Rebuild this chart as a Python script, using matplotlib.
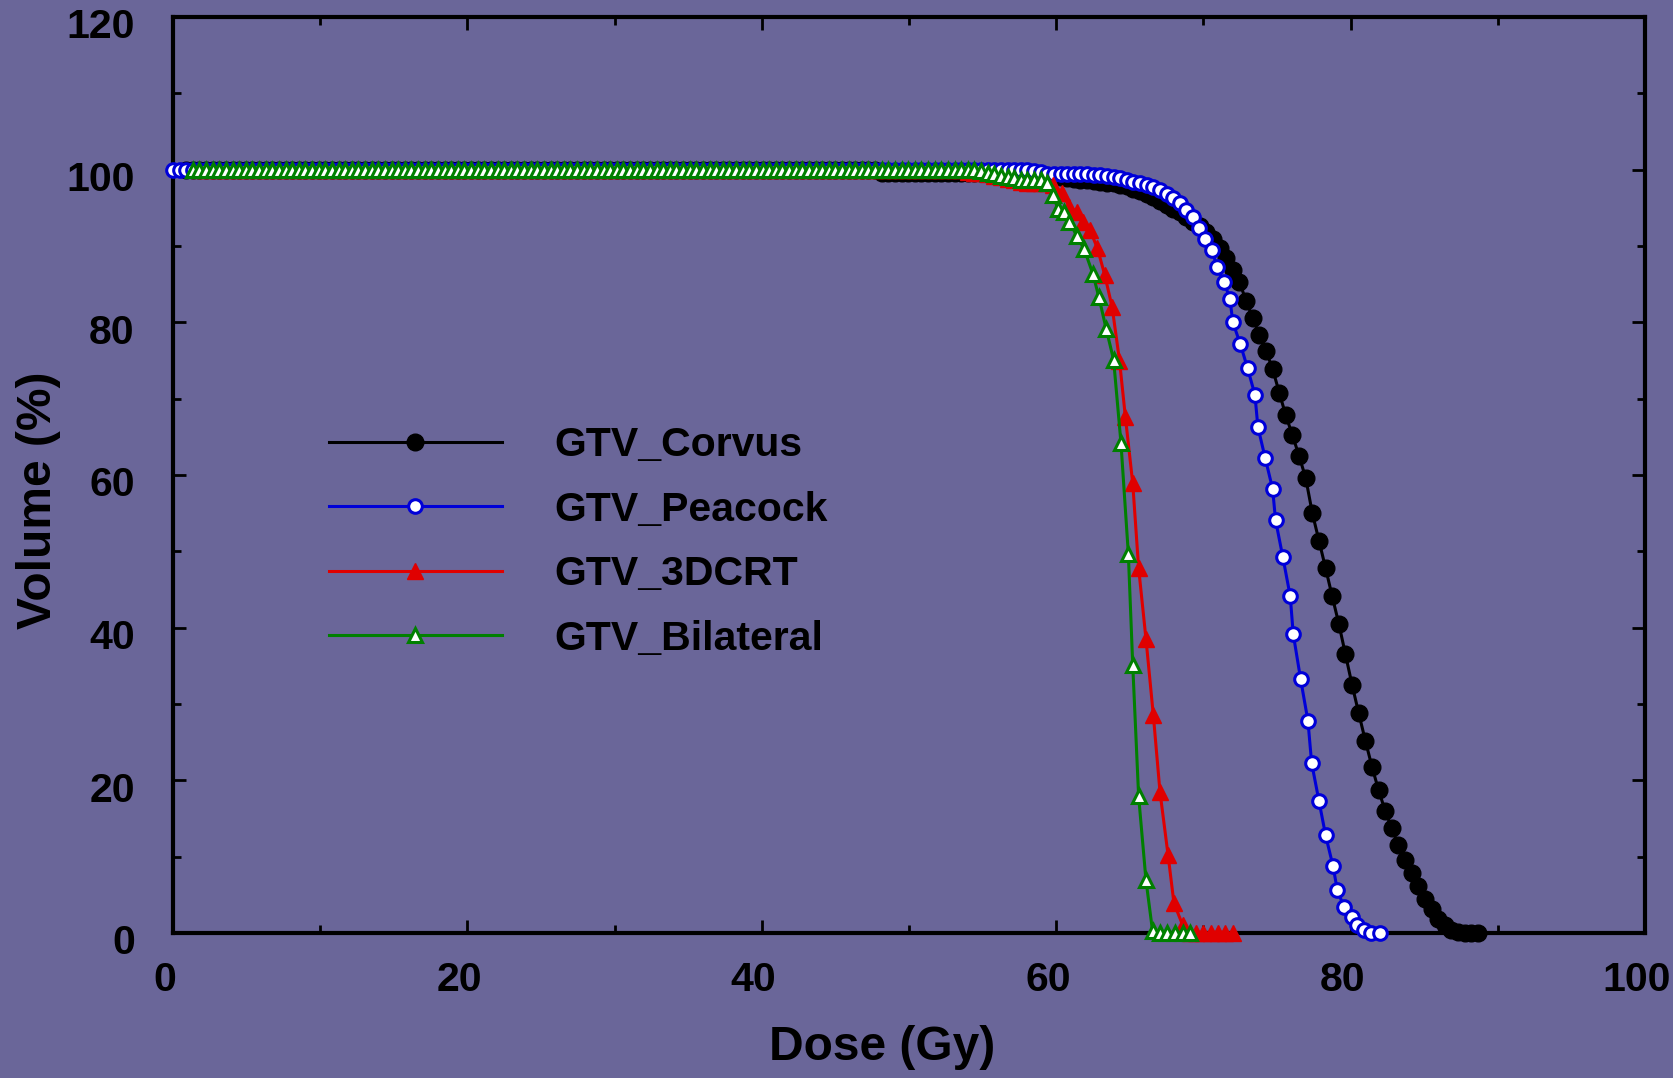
import matplotlib.pyplot as plt
from matplotlib.ticker import MultipleLocator
from matplotlib.transforms import ScaledTranslation

plt.rcParams['font.family'] = ['Liberation Sans', 'DejaVu Sans']
plt.rcParams['font.weight'] = 'bold'

# dose bins (Gy) of the flat shoulder, shared by the four DVHs
shoulder_dose = [
    0.0, 0.45, 0.9, 1.35, 1.8, 2.25, 2.7, 3.15, 3.6, 4.05,
    4.5, 4.95, 5.4, 5.85, 6.3, 6.75, 7.2, 7.65, 8.1, 8.55,
    9.0, 9.45, 9.9, 10.35, 10.8, 11.25, 11.7, 12.15, 12.6, 13.05,
    13.5, 13.95, 14.4, 14.85, 15.3, 15.75, 16.2, 16.65, 17.1, 17.55,
    18.0, 18.45, 18.9, 19.35, 19.8, 20.25, 20.7, 21.15, 21.6, 22.05,
    22.5, 22.95, 23.4, 23.85, 24.3, 24.75, 25.2, 25.65, 26.1, 26.55,
    27.0, 27.45, 27.9, 28.35, 28.8, 29.25, 29.7, 30.15, 30.6, 31.05,
    31.5, 31.95, 32.4, 32.85, 33.3, 33.75, 34.2, 34.65, 35.1, 35.55,
    36.0, 36.45, 36.9, 37.35, 37.8, 38.25, 38.7, 39.15, 39.6, 40.05,
    40.5, 40.95, 41.4, 41.85, 42.3, 42.75, 43.2, 43.65, 44.1, 44.55,
    45.0, 45.45, 45.9, 46.35, 46.8, 47.25, 47.7, 48.15, 48.6, 49.05,
    49.5, 49.95, 50.4, 50.85, 51.3, 51.75, 52.2, 52.65, 53.1, 53.55,
    54.0, 54.45, 54.9, 55.35, 55.8,
]

# volumes (%) on the shoulder; each list ends on the last shoulder bin
corvus_shoulder = [
    100, 100, 100, 100, 100, 100, 100, 100, 100, 100, 100, 100, 100, 100, 100,
    100, 100, 100, 100, 100, 100, 100, 100, 100, 100, 100, 100, 100, 100, 100,
    100, 100, 100, 100, 100, 100, 100, 100, 100, 100, 100, 100, 100, 100, 100,
    100, 100, 100, 100, 100, 100, 100, 100, 100, 100, 100, 100, 100, 100, 100,
    100, 100, 100, 100, 100, 100, 100, 100, 100, 100, 100, 100, 100, 100, 100,
    100, 100, 100, 100, 100, 100, 100, 100, 100, 100, 100, 100, 100, 100, 100,
    100, 100, 100, 100, 100, 100, 100, 100, 100, 100, 100, 100, 100, 100, 100,
    99.6, 99.6, 99.6, 99.6, 99.6, 99.6, 99.6, 99.6, 99.6,
    99.6, 99.6, 99.6, 99.6, 99.6, 99.6, 99.6, 99.6, 99.6,
]
peacock_shoulder = [
    100, 100, 100, 100, 100, 100, 100, 100, 100, 100, 100, 100, 100, 100, 100,
    100, 100, 100, 100, 100, 100, 100, 100, 100, 100, 100, 100, 100, 100, 100,
    100, 100, 100, 100, 100, 100, 100, 100, 100, 100, 100, 100, 100, 100, 100,
    100, 100, 100, 100, 100, 100, 100, 100, 100, 100, 100, 100, 100, 100, 100,
    100, 100, 100, 100, 100, 100, 100, 100, 100, 100, 100, 100, 100, 100, 100,
    100, 100, 100, 100, 100, 100, 100, 100, 100, 100, 100, 100, 100, 100, 100,
    100, 100, 100, 100, 100, 100, 100, 100, 100, 100, 100, 100, 100, 100, 100,
    100, 100, 100, 100, 100, 100, 100, 100, 100, 100, 100, 100, 100, 100, 100,
    100, 100, 100, 100, 100,
]
crt3d_shoulder = [
    100, 100, 100, 100, 100, 100, 100, 100, 100, 100, 100, 100, 100, 100, 100,
    100, 100, 100, 100, 100, 100, 100, 100, 100, 100, 100, 100, 100, 100, 100,
    100, 100, 100, 100, 100, 100, 100, 100, 100, 100, 100, 100, 100, 100, 100,
    100, 100, 100, 100, 100, 100, 100, 100, 100, 100, 100, 100, 100, 100, 100,
    100, 100, 100, 100, 100, 100, 100, 100, 100, 100, 100, 100, 100, 100, 100,
    100, 100, 100, 100, 100, 100, 100, 100, 100, 100, 100, 100, 100, 100, 100,
    100, 100, 100, 100, 100, 100, 100, 100, 100, 100, 100, 100, 100, 100, 100,
    100, 100, 100, 100, 100, 100, 100, 100, 100, 100, 100,
    99.7, 99.6, 99.6, 99.5, 99.2,
]
bilateral_shoulder = [
    100, 100, 100, 100, 100, 100, 100, 100, 100, 100, 100, 100, 100, 100, 100,
    100, 100, 100, 100, 100, 100, 100, 100, 100, 100, 100, 100, 100, 100, 100,
    100, 100, 100, 100, 100, 100, 100, 100, 100, 100, 100, 100, 100, 100, 100,
    100, 100, 100, 100, 100, 100, 100, 100, 100, 100, 100, 100, 100, 100, 100,
    100, 100, 100, 100, 100, 100, 100, 100, 100, 100, 100, 100, 100, 100, 100,
    100, 100, 100, 100, 100, 100, 100, 100, 100, 100, 100, 100, 100, 100, 100,
    100, 100, 100, 100, 100, 100, 100, 100, 100, 100, 100, 100, 100, 100, 100,
    100, 100, 100, 100, 100, 100, 100, 100, 100, 100, 100, 100, 100, 100,
    99.8, 99.6, 99.4,
]

# fall-off part of each curve
corvus_dose = [
    56.25, 56.7, 57.15, 57.6, 58.05, 58.5, 58.95, 59.4, 59.85, 60.3,
    60.75, 61.2, 61.65, 62.1, 62.55, 63.0, 63.45, 63.9, 64.35, 64.8,
    65.25, 65.7, 66.15, 66.6, 67.05, 67.5, 67.95, 68.4, 68.85, 69.3,
    69.75, 70.2, 70.65, 71.1, 71.55, 72.0, 72.45, 72.9, 73.35, 73.8,
    74.25, 74.7, 75.15, 75.6, 76.05, 76.5, 76.95, 77.4, 77.85, 78.3,
    78.75, 79.2, 79.65, 80.1, 80.55, 81.0, 81.45, 81.9, 82.35, 82.8,
    83.25, 83.7, 84.15, 84.6, 85.05, 85.5, 85.95, 86.4, 86.85, 87.3,
    87.75, 88.2, 88.65,
]
corvus_vol = [
    99.5, 99.4, 99.4, 99.3, 99.3, 99.2, 99.2, 99.1, 99.0, 99.0,
    98.9, 98.8, 98.7, 98.6, 98.5, 98.4, 98.3, 98.2, 98.0, 97.8,
    97.5, 97.2, 96.8, 96.4, 95.9, 95.4, 94.9, 94.4, 93.8, 93.2,
    92.6, 91.8, 90.9, 89.7, 88.4, 86.8, 85.3, 82.8, 80.6, 78.4,
    76.3, 73.9, 70.8, 67.8, 65.2, 62.5, 59.6, 55.0, 51.4, 47.8,
    44.1, 40.5, 36.5, 32.5, 28.8, 25.2, 21.8, 18.7, 16.0, 13.7,
    11.5, 9.6, 7.8, 6.1, 4.5, 3.2, 1.9, 1.0, 0.4, 0.1,
    0.0, 0.0, 0.0,
]
peacock_dose = [
    56.25, 56.7, 57.15, 57.6, 58.05, 58.5, 58.95, 59.4, 59.85, 60.3,
    60.75, 61.2, 61.65, 62.1, 62.55, 63.0, 63.45, 63.9, 64.35, 64.8,
    65.25, 65.7, 66.15, 66.6, 67.05, 67.5, 67.95, 68.4, 68.85, 69.3,
    69.7, 70.1, 70.6, 70.9, 71.4, 71.8, 72.0, 72.5, 73.0, 73.5,
    73.7, 74.2, 74.7, 74.9, 75.4, 75.9, 76.1, 76.6, 77.1, 77.35,
    77.85, 78.3, 78.8, 79.1, 79.55, 80.1, 80.4, 80.9, 81.4, 82.0,
]
peacock_vol = [
    100, 100, 100, 100, 99.9, 99.8, 99.7, 99.5, 99.5, 99.5,
    99.4, 99.4, 99.4, 99.4, 99.3, 99.3, 99.2, 99.0, 98.9, 98.6,
    98.4, 98.2, 98.0, 97.7, 97.3, 96.8, 96.3, 95.7, 94.7, 93.8,
    92.3, 90.9, 89.5, 87.3, 85.3, 83.1, 80.0, 77.2, 74.0, 70.5,
    66.3, 62.2, 58.2, 54.1, 49.2, 44.1, 39.2, 33.3, 27.8, 22.3,
    17.3, 12.8, 8.8, 5.6, 3.4, 2.1, 1.0, 0.4, 0.0, 0.0,
]
crt3d_dose = [
    56.25, 56.7, 57.15, 57.6, 58.05, 58.5, 58.95, 59.4, 59.8, 60.4,
    60.9, 61.4, 61.8, 62.3, 62.8, 63.3, 63.8, 64.3, 64.7, 65.2,
    65.6, 66.1, 66.6, 67.05, 67.6, 68.0, 68.6, 69.1, 69.5, 70.0,
    70.5, 71.0, 71.5, 72.0,
]
crt3d_vol = [
    99.0, 98.8, 98.6, 98.4, 98.2, 98.2, 98.2, 98.2, 98.0, 96.9,
    95.1, 94.5, 93.2, 92.1, 89.7, 86.2, 82.0, 75.0, 67.6, 58.9,
    47.8, 38.5, 28.5, 18.5, 10.2, 3.9, 1.0, 0.0, 0.0, 0.0,
    0.0, 0.0, 0.0, 0.0,
]
bilateral_dose = [
    56.25, 56.7, 57.15, 57.6, 58.05, 58.5, 58.95, 59.4, 59.8, 60.1,
    60.5, 60.9, 61.4, 61.9, 62.5, 62.9, 63.4, 63.9, 64.4, 64.9,
    65.2, 65.6, 66.1, 66.55, 67.05, 67.55, 68.1, 68.6, 69.1,
]
bilateral_vol = [
    99.2, 99.1, 98.9, 98.7, 98.7, 98.7, 98.6, 98.2, 96.7, 94.9,
    94.5, 93.2, 91.3, 89.6, 86.3, 83.3, 79.1, 75.1, 64.2, 49.7,
    35.1, 17.9, 6.9, 0.2, 0.0, 0.0, 0.0, 0.0, 0.0,
]

labels = ['GTV_Corvus', 'GTV_Peacock', 'GTV_3DCRT', 'GTV_Bilateral']
x_ticks = [0, 20, 40, 60, 80, 100]
y_ticks = [0, 20, 40, 60, 80, 100, 120]

bg = '#6A6699'
blue = '#0000D8'
red = '#E00000'
green = '#008000'

fig = plt.figure(figsize=(16.74, 10.78), dpi=100, facecolor=bg)
ax = fig.add_axes([0.1033, 0.1345, 0.8794, 0.8497], facecolor=bg)

styles = [
    dict(color='black', marker='o', ms=12, mfc='black', mec='black', mew=1),
    dict(color=blue, marker='o', ms=9.8, mfc='white', mec=blue, mew=2.2),
    dict(color=red, marker='^', ms=12, mfc=red, mec=red, mew=1),
    dict(color=green, marker='^', ms=10.5, mfc='white', mec=green, mew=2.2),
]
series = [
    (corvus_shoulder, corvus_dose, corvus_vol),
    (peacock_shoulder, peacock_dose, peacock_vol),
    (crt3d_shoulder, crt3d_dose, crt3d_vol),
    (bilateral_shoulder, bilateral_dose, bilateral_vol),
]
n = len(shoulder_dose)
for (shoulder, dose, vol), label, st in zip(series, labels, styles):
    x = shoulder_dose[n - len(shoulder):] + dose
    y = shoulder + vol
    ax.plot(x, y, lw=2.2, label=label, clip_on=False, zorder=3, **st)

ax.set_xlim(0, 100)
ax.set_ylim(0, 120)
ax.set_xticks(x_ticks)
ax.set_yticks(y_ticks)
ax.xaxis.set_minor_locator(MultipleLocator(10))
ax.yaxis.set_minor_locator(MultipleLocator(10))
ax.tick_params(which='both', direction='in', top=True, right=True,
               colors='black', labelsize=29.5)
ax.tick_params(which='major', length=9.5, width=2)
ax.tick_params(which='minor', length=5.5, width=2)
ax.tick_params(axis='x', pad=20)
ax.tick_params(axis='y', pad=27.5)
for lab in ax.get_xticklabels() + ax.get_yticklabels():
    lab.set_fontweight('bold')
for lab in ax.get_xticklabels():
    lab.set_transform(lab.get_transform() +
                      ScaledTranslation(-6 / 72, 0, fig.dpi_scale_trans))
for lab in ax.get_yticklabels():
    lab.set_transform(lab.get_transform() +
                      ScaledTranslation(0, -4.5 / 72, fig.dpi_scale_trans))
for sp in ax.spines.values():
    sp.set_linewidth(3)

ax.set_xlabel('Dose (Gy)', fontsize=34.5, fontweight='bold')
ax.set_ylabel('Volume (%)', fontsize=34.5, fontweight='bold')
ax.xaxis.set_label_coords(0.482, -0.10)
ax.yaxis.set_label_coords(-0.076, 0.473)

leg = ax.legend(loc='upper left', bbox_to_anchor=(0.106, 0.553),
                frameon=False, numpoints=1, fontsize=29.5,
                handlelength=4.22, handletextpad=1.29, labelspacing=0.643,
                borderpad=0, borderaxespad=0)
for t in leg.get_texts():
    t.set_fontweight('bold')

fig.savefig('out.png', dpi=100, facecolor=bg)
